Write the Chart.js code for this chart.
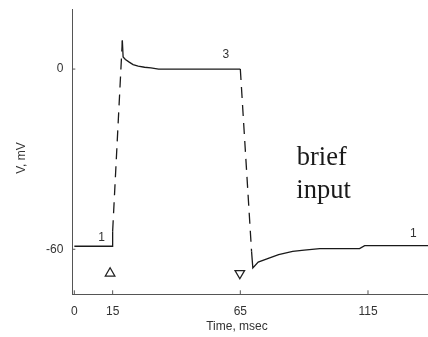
<!DOCTYPE html>
<html>
<head>
<meta charset="utf-8">
<script src="https://cdn.jsdelivr.net/npm/chart.js@4/dist/chart.umd.min.js"></script>
<style>
  html, body { margin: 0; padding: 0; background: #fff; }
  #wrap { width: 428px; height: 337px; position: relative; }
</style>
</head>
<body>
<div id="wrap"><canvas id="c" width="428" height="337"></canvas></div>
<script>
// Membrane potential trace during a brief input pulse
const timeMs    = [0, 15, 15, 18.8, 19.1, 20, 21.5, 23, 25, 27.5, 30, 33, 65, 69.4, 69.9, 72, 76.5, 80, 85.5, 90, 96.1, 111.7, 113.7, 138.5];
const voltageMv = [-59, -59, -54, 9.5, 4, 3.2, 2.3, 1.5, 1, 0.6, 0.4, 0, 0, -60.7, -66.2, -64.3, -62.9, -61.8, -60.7, -60.3, -59.8, -59.8, -58.8, -58.8];
// segments (start index) drawn dashed: the fast transitions
const dashedSegments = [2, 12];

// stimulus on / off markers
const onsetTimes  = [14];
const offsetTimes = [64.8];
const markerLevel = -68;

const xTicks = [0, 15, 65, 115];
const yTicks = [-60, 0];

// state labels on the trace
const stateLabels = [
  { t: 10.7, v: -56, text: '1' },
  { t: 59.3, v: 4.7, text: '3' },
  { t: 132.8, v: -54.7, text: '1' }
];
const noteLines = [
  { t: 96.9, v: -29.7, text: 'brief' },
  { t: 97.6, v: -40.7, text: 'input' }
];

const AXIS = '#555';
const TEXT = '#333';
const SANS = '"Liberation Sans", Arial, sans-serif';

const tracePoints = timeMs.map((t, i) => ({ x: t, y: voltageMv[i] }));

const annotate = {
  id: 'annotate',
  afterDraw(chart) {
    const { ctx, scales: { x, y } } = chart;
    ctx.save();
    // inward tick marks
    ctx.strokeStyle = AXIS;
    ctx.lineWidth = 1;
    ctx.beginPath();
    xTicks.forEach(v => {
      const px = x.getPixelForValue(v);
      ctx.moveTo(px, y.bottom);
      ctx.lineTo(px, y.bottom - 4);
    });
    yTicks.forEach(v => {
      const py = y.getPixelForValue(v);
      ctx.moveTo(x.left, py);
      ctx.lineTo(x.left + 3, py);
    });
    ctx.stroke();

    ctx.fillStyle = TEXT;
    ctx.textAlign = 'center';
    ctx.textBaseline = 'middle';
    ctx.font = '12px ' + SANS;
    stateLabels.forEach(l => {
      ctx.fillText(l.text, x.getPixelForValue(l.t), y.getPixelForValue(l.v));
    });

    ctx.fillStyle = '#1a1a1a';
    ctx.font = '26.5px "Liberation Serif", "Times New Roman", serif';
    noteLines.forEach(l => {
      ctx.fillText(l.text, x.getPixelForValue(l.t), y.getPixelForValue(l.v));
    });

    // axis titles
    ctx.fillStyle = TEXT;
    ctx.font = '12px ' + SANS;
    ctx.fillText('Time, msec', 237, 327);
    ctx.translate(22, 158);
    ctx.rotate(-Math.PI / 2);
    ctx.fillText('V, mV', 0, 0);
    ctx.restore();
  }
};

const noPad = s => { s.paddingTop = 0; s.paddingBottom = 0; s.paddingLeft = 0; s.paddingRight = 0; };

new Chart(document.getElementById('c'), {
  type: 'scatter',
  data: {
    datasets: [
      {
        data: tracePoints,
        showLine: true,
        borderColor: '#1a1a1a',
        borderWidth: 1.3,
        pointRadius: 0,
        tension: 0,
        segment: {
          borderDash: ctx => dashedSegments.includes(ctx.p0DataIndex) ? [11, 7] : undefined
        }
      },
      {
        data: onsetTimes.map(t => ({ x: t, y: markerLevel })),
        pointStyle: 'triangle',
        pointRadius: 5.5,
        pointBorderColor: '#222',
        pointBackgroundColor: 'rgba(0,0,0,0)',
        pointBorderWidth: 1.3
      },
      {
        data: offsetTimes.map(t => ({ x: t, y: markerLevel })),
        pointStyle: 'triangle',
        rotation: 180,
        pointRadius: 5.5,
        pointBorderColor: '#222',
        pointBackgroundColor: 'rgba(0,0,0,0)',
        pointBorderWidth: 1.3
      }
    ]
  },
  options: {
    responsive: false,
    animation: false,
    layout: { autoPadding: false, padding: { top: 9, right: 0, left: 0, bottom: 0 } },
    plugins: { legend: { display: false }, tooltip: { enabled: false } },
    scales: {
      x: {
        type: 'linear',
        min: -0.8,
        max: 138.5,
        afterBuildTicks: s => { s.ticks = xTicks.map(v => ({ value: v })); },
        afterFit: s => { s.height = 42.7; noPad(s); },
        grid: { drawOnChartArea: false, drawTicks: false },
        border: { color: AXIS, width: 1 },
        ticks: { color: TEXT, font: { family: SANS, size: 12 }, padding: 10, maxRotation: 0, autoSkip: false }
      },
      y: {
        min: -75,
        max: 20,
        afterBuildTicks: s => { s.ticks = yTicks.map(v => ({ value: v })); },
        afterFit: s => { s.width = 72.3; noPad(s); },
        grid: { drawOnChartArea: false, drawTicks: false },
        border: { color: AXIS, width: 1 },
        ticks: { color: TEXT, font: { family: SANS, size: 12 }, padding: 9 }
      }
    }
  },
  plugins: [annotate]
});
</script>
</body>
</html>
